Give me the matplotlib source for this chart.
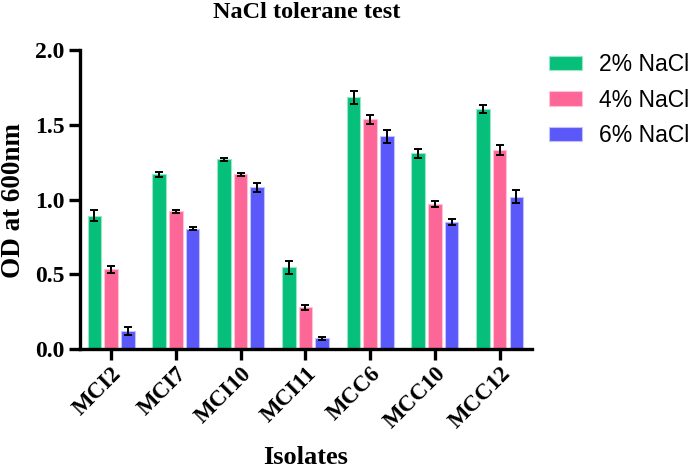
import numpy as np
import matplotlib
matplotlib.use("Agg")
import matplotlib.pyplot as plt

# data
isolates = ["MCI2", "MCI7", "MCI10", "MCI11", "MCC6", "MCC10", "MCC12"]
series = ["2% NaCl", "4% NaCl", "6% NaCl"]
nacl2 = [0.89, 1.168, 1.269, 0.546, 1.683, 1.309, 1.605]
nacl4 = [0.533, 0.923, 1.168, 0.279, 1.538, 0.970, 1.329]
nacl6 = [0.120, 0.803, 1.081, 0.072, 1.423, 0.847, 1.019]
err2 = [0.037, 0.018, 0.012, 0.045, 0.042, 0.030, 0.025]
err4 = [0.022, 0.010, 0.010, 0.015, 0.030, 0.020, 0.034]
err6 = [0.028, 0.010, 0.030, 0.010, 0.045, 0.020, 0.045]

colors = ["#05BF7A", "#FC6797", "#5A58F8"]
edges = ["#9BE6C8", "#FFC2D6", "#C3C2FD"]

serif = ["Liberation Serif", "DejaVu Serif"]
sans = ["Liberation Sans", "DejaVu Sans"]

fig = plt.figure(figsize=(6.91, 4.70), dpi=100)
ax = fig.add_axes([0.1158, 0.2574, 0.6542, 0.6362])

x = np.arange(len(isolates))
width = 0.21
offset = 0.257
for i, (vals, errs) in enumerate(zip([nacl2, nacl4, nacl6], [err2, err4, err6])):
    ax.bar(x + (i - 1) * offset, vals, width, color=colors[i], edgecolor=edges[i],
           linewidth=0.8, label=series[i], zorder=2)
    ax.errorbar(x + (i - 1) * offset, vals, yerr=errs, fmt="none", ecolor="black",
                elinewidth=1.4, capsize=2.8, capthick=1.4, zorder=3)

ax.set_xlim(-0.48, 6.5)
ax.set_ylim(0, 2.0)
ax.set_yticks([0.0, 0.5, 1.0, 1.5, 2.0])
ax.set_yticklabels(["0.0", "0.5", "1.0", "1.5", "2.0"], family=serif,
                   fontweight="bold", fontsize=17)
ax.set_xticks(x)
ax.set_xticklabels(isolates, family=serif, fontweight="bold", fontsize=16.5,
                   rotation=45, ha="right", rotation_mode="anchor")

for side in ["top", "right"]:
    ax.spines[side].set_visible(False)
for side in ["left", "bottom"]:
    ax.spines[side].set_linewidth(2.4)
ax.tick_params(axis="both", width=2.4, length=8, direction="out")
ax.tick_params(axis="y", pad=3)
ax.tick_params(axis="x", pad=2)

# axis titles and chart title at fixed spots
fig.text(14 / 691, 1 - 200 / 470, "OD at 600nm", family=serif, fontweight="bold",
         fontsize=19.5, rotation=90, ha="center", va="center")
fig.text(306 / 691, 1 - 458 / 470, "Isolates", family=serif, fontweight="bold",
         fontsize=19, ha="center", va="center")
fig.text(307 / 691, 1 - 13 / 470, "NaCl tolerane test", family=serif, fontweight="bold",
         fontsize=17.5, ha="center", va="center")

ax.legend(loc="upper left", bbox_to_anchor=(549 / 691, 1 - 53 / 470),
          bbox_transform=fig.transFigure, frameon=False, borderpad=0, borderaxespad=0,
          prop={"family": sans, "size": 16.5},
          handlelength=1.45, handleheight=0.6, handletextpad=0.75, labelspacing=0.55)

fig.savefig("out.png", dpi=100)
